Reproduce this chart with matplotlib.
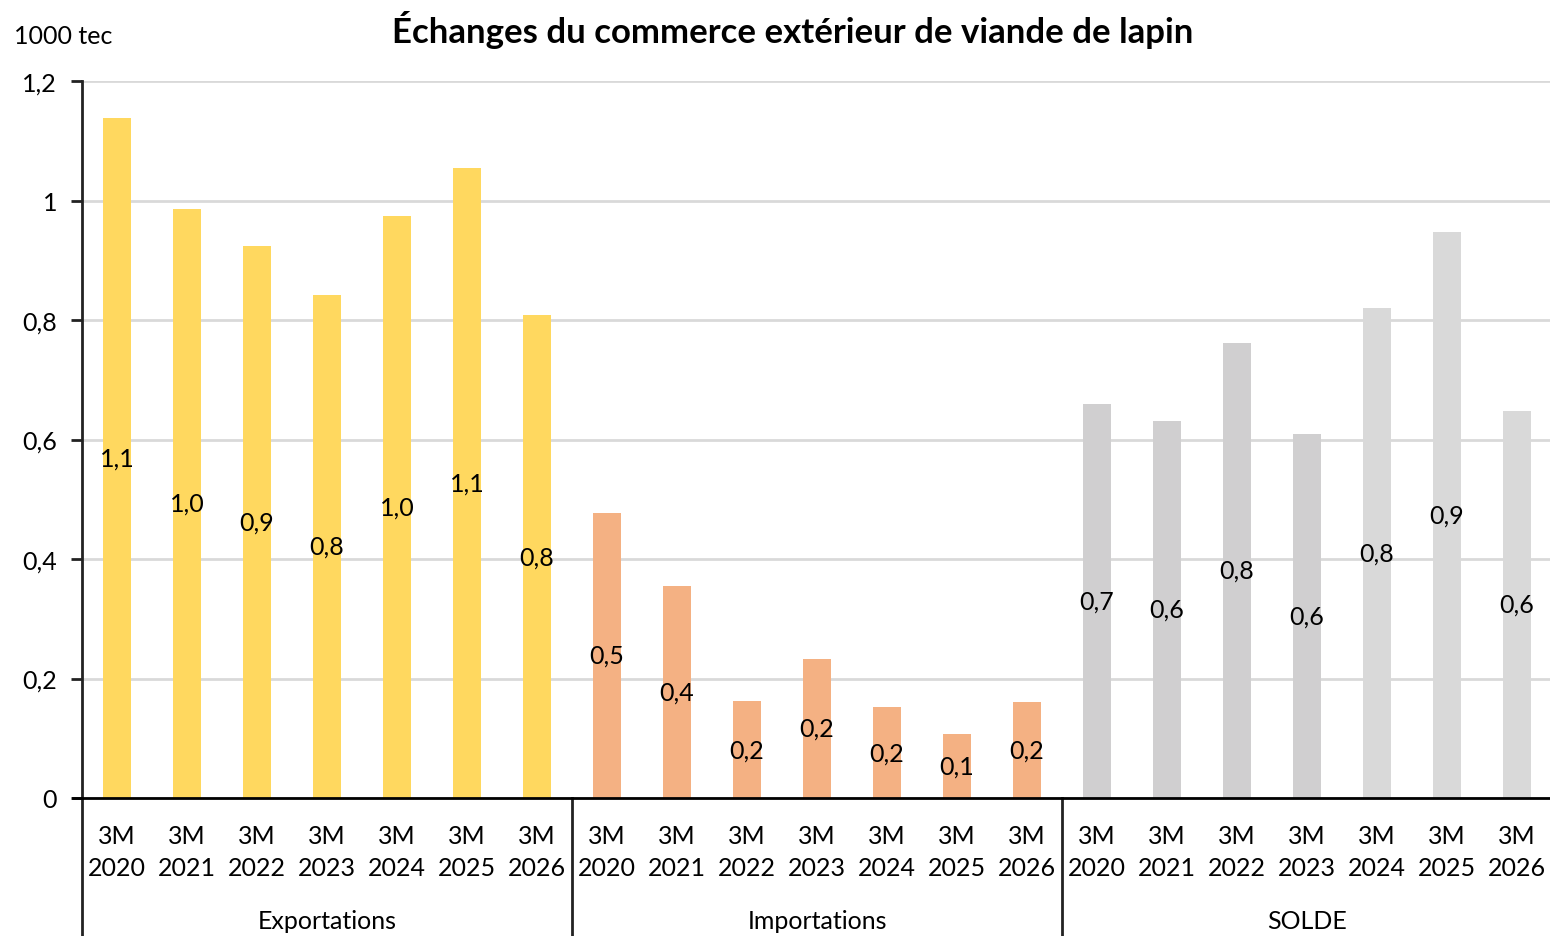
import matplotlib
matplotlib.use("Agg")
import matplotlib.pyplot as plt
import matplotlib.transforms as mtransforms
from matplotlib.ticker import FuncFormatter

plt.rcParams['font.family'] = ['Lato', 'DejaVu Sans']

# values in 1000 tec, first three months of each year
years = ['2020', '2021', '2022', '2023', '2024', '2025', '2026']
exportations = [1.138, 0.986, 0.924, 0.842, 0.974, 1.054, 0.808]
importations = [0.477, 0.355, 0.162, 0.233, 0.152, 0.107, 0.161]
solde = [0.659, 0.631, 0.762, 0.609, 0.820, 0.947, 0.648]
groups = ['Exportations', 'Importations', 'SOLDE']

colors_exp = ['#FFD85F'] * 7
colors_imp = ['#F4B183'] * 7
colors_sol = ['#D0CFD0'] * 4 + ['#D9D9D9'] * 3

values = exportations + importations + solde
colors = colors_exp + colors_imp + colors_sol
labels = [f'3M\n{y}' for y in years] * 3
x = list(range(len(values)))

FS = 18

fig = plt.figure(figsize=(15.5, 9.37), dpi=100)
ax = fig.add_axes([82 / 1550, 1 - 799 / 937, 1470 / 1550, 717 / 937])

ax.bar(x, values, width=0.41, color=colors, zorder=2)

# value labels in the middle of each bar
for xi, v in zip(x, values):
    ax.text(xi, v / 2, f'{v:.1f}'.replace('.', ','), ha='center', va='center',
            fontsize=FS, color='black', zorder=3)

ax.set_xlim(-0.5, len(values) - 0.5)
ax.set_ylim(0, 1.2)
ax.set_yticks([0, 0.2, 0.4, 0.6, 0.8, 1.0, 1.2])


def fmt(v, pos):
    s = f'{v:.1f}'.replace('.', ',')
    return s[:-2] if s.endswith(',0') else s


ax.yaxis.set_major_formatter(FuncFormatter(fmt))
ax.yaxis.grid(True, color='#D9D9D9', linewidth=2, zorder=0)
ax.set_axisbelow(True)

ax.set_xticks(x)
ax.set_xticklabels(labels, fontsize=FS, linespacing=1.45)
ax.tick_params(axis='x', length=0, pad=19)
ax.tick_params(axis='y', length=8, width=2, color='#222222', labelsize=FS, pad=10)

for side in ['top', 'right']:
    ax.spines[side].set_visible(False)
ax.spines['bottom'].set_linewidth(2)
ax.spines['bottom'].set_color('black')
ax.spines['bottom'].set_bounds(-0.63, len(values) - 0.5)
ax.spines['left'].set_linewidth(2)
ax.spines['left'].set_color('#222222')
ax.spines['left'].set_bounds(0, 1.2)

# group separators and group names below the axis
trans = mtransforms.blended_transform_factory(ax.transData, ax.transAxes)
ybot = -(937 - 799) / 717
for b in [-0.5, 6.5, 13.5, 20.5]:
    ax.plot([b, b], [0, ybot], transform=trans, color='#222222', linewidth=2,
            clip_on=False)
for i, g in enumerate(groups):
    ax.text(i * 7 + 3, -(922 - 799) / 717, g, transform=trans, ha='center',
            va='center', fontsize=FS)

fig.text(14 / 1550, 1 - 37 / 937, '1000 tec', ha='left', va='center', fontsize=FS)
fig.text(793 / 1550, 1 - 30 / 937, 'Échanges du commerce extérieur de viande de lapin',
         ha='center', va='center', fontsize=25, fontweight='bold')

fig.savefig('out.png', dpi=100)
plt.close('all')
